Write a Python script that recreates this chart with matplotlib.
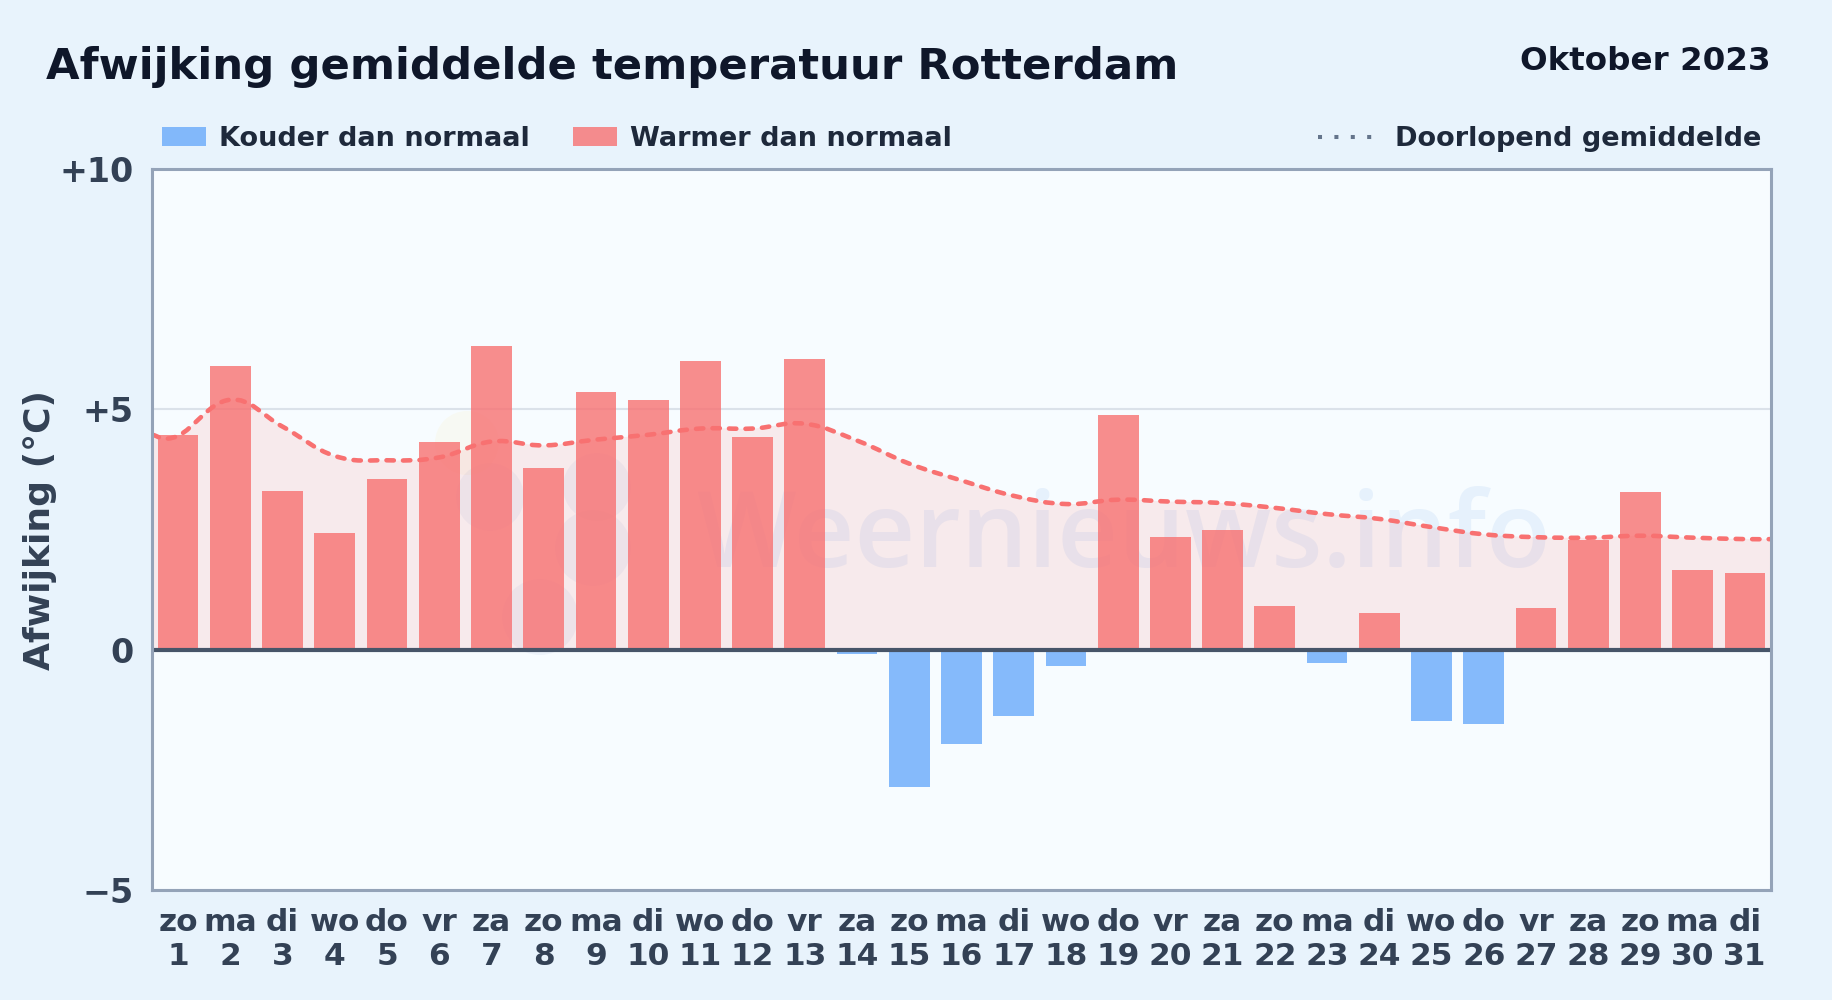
import numpy as np
import matplotlib
matplotlib.use('Agg')
import matplotlib.pyplot as plt
from matplotlib.path import Path
from matplotlib.patches import PathPatch, Circle
from matplotlib.lines import Line2D
from matplotlib.transforms import IdentityTransform

days = list(range(1, 32))
weekdays = ['zo','ma','di','wo','do','vr','za','zo','ma','di','wo','do','vr','za','zo','ma','di','wo','do','vr','za','zo','ma','di','wo','do','vr','za','zo','ma','di']
deviation = [4.47,5.90,3.30,2.43,3.55,4.33,6.32,3.77,5.37,5.20,6.00,4.43,6.05,-0.08,-2.85,-1.97,-1.39,-0.33,4.88,2.35,2.48,0.90,-0.27,0.76,-1.48,-1.55,0.87,2.28,3.28,1.65,1.60]
running_x = [0.5] + days + [31.5]
running_mean = [4.47,4.45,5.20,4.64,4.03,3.94,4.00,4.33,4.25,4.37,4.47,4.60,4.60,4.70,4.35,3.87,3.52,3.20,3.03,3.12,3.08,3.05,2.95,2.82,2.72,2.55,2.40,2.34,2.33,2.37,2.33,2.30,2.30]
y_ticks = [-5, 0, 5, 10]
y_labels = ['\u22125', '0', '+5', '+10']

COLD = '#69aafa'
WARM = '#f87171'
LINE = '#f87171'
DARK = '#334155'
TITLE = '#0f172a'
LEGEND = '#1e293b'
BORDER = '#94a3b8'

W, H = 1832, 1000
fig = plt.figure(figsize=(W / 100, H / 100), dpi=100, facecolor='#e8f3fc')
ax = fig.add_axes([152 / W, 1 - 890 / H, (1771 - 152) / W, (890 - 169) / H])
ax.set_facecolor('#f7fcff')


def smooth_path(xs, ys, close_base=False):
    # bezier door de punten, zelfde idee als lijn met tension
    xs, ys = np.array(xs, float), np.array(ys, float)
    verts = [(xs[0], ys[0])]
    codes = [Path.MOVETO]
    for i in range(len(xs) - 1):
        p0 = max(i - 1, 0)
        p3 = min(i + 2, len(xs) - 1)
        t = 0.2
        verts.append((xs[i] + (xs[i + 1] - xs[p0]) * t, ys[i] + (ys[i + 1] - ys[p0]) * t))
        verts.append((xs[i + 1] - (xs[p3] - xs[i]) * t, ys[i + 1] - (ys[p3] - ys[i]) * t))
        verts.append((xs[i + 1], ys[i + 1]))
        codes += [Path.CURVE4] * 3
    if close_base:
        verts += [(xs[-1], 0), (xs[0], 0), (xs[0], ys[0])]
        codes += [Path.LINETO, Path.LINETO, Path.CLOSEPOLY]
    return Path(verts, codes)


ax.set_xlim(0.5, 31.5)
ax.set_ylim(-5, 10)

# watermerk: tekst en wolkje
ax.text(1124 / W, 1 - 539 / H, 'Weernieuws.info', transform=fig.transFigure, ha='center', va='center',
        fontsize=76, fontweight='semibold', color='#6ca4e8', alpha=0.12, zorder=1, family='Open Sans')
for cx, cy, r, c in [(467, 443, 32, '#fde68a'), (490, 497, 34, '#8fa6d6'), (597, 487, 34, '#8fa6d6'),
                     (593, 548, 38, '#8fa6d6'), (540, 617, 38, '#8fa6d6')]:
    ax.add_patch(Circle((cx, H - cy), r, transform=IdentityTransform(), facecolor=c, alpha=0.10,
                        edgecolor='none', zorder=1))
ax.grid(axis='y', color='#dbe2ea', linewidth=1.5, zorder=0)
ax.set_axisbelow(True)

ax.add_patch(PathPatch(smooth_path(running_x, running_mean, True), facecolor='#f87171', alpha=0.13,
                       edgecolor='none', zorder=2))
colors = [WARM if v >= 0 else COLD for v in deviation]
ax.bar(days, deviation, width=0.78, color=colors, alpha=0.8, zorder=3)
ax.add_patch(PathPatch(smooth_path(running_x, running_mean), facecolor='none', edgecolor=LINE,
                       linewidth=3.3, linestyle=(0, (1.6, 2.0)), capstyle='round', zorder=4))
ax.axhline(0, color='#475569', linewidth=3, zorder=5)

for s in ax.spines.values():
    s.set_color(BORDER)
    s.set_linewidth(2.2)
    s.set_zorder(6)

ax.set_yticks(y_ticks, y_labels)
ax.set_xticks(days, [f'{w}\n{d}' for w, d in zip(weekdays, days)])
ax.tick_params(axis='both', length=0, labelcolor=DARK)
ax.tick_params(axis='y', pad=13, labelsize=24)
ax.tick_params(axis='x', pad=13, labelsize=22.5)
for t in ax.get_xticklabels() + ax.get_yticklabels():
    t.set_fontweight('bold')
for t in ax.get_xticklabels():
    t.set_linespacing(1.2)
ax.set_ylabel('Afwijking (\u00b0C)', fontsize=26, fontweight='bold', color=DARK, labelpad=0)
ax.yaxis.set_label_coords(-0.0586, 0.50)

fig.text(46 / W, 1 - 67 / H, 'Afwijking gemiddelde temperatuur Rotterdam', fontsize=31.2,
         fontweight='bold', color=TITLE, ha='left', va='center')
fig.text(1771 / W, 1 - 62 / H, 'Oktober 2023', fontsize=23.4, fontweight='bold', color=TITLE,
         ha='right', va='center')

# legenda met de hand, staat over de hele breedte
for x0, label, c in [(162, 'Kouder dan normaal', COLD), (573, 'Warmer dan normaal', WARM)]:
    rect = plt.Rectangle((x0 / W, 1 - 146 / H), 44 / W, 19 / H, transform=fig.transFigure, facecolor=c,
                         alpha=0.8, edgecolor='none')
    fig.add_artist(rect)
    fig.text((x0 + 57) / W, 1 - 139 / H, label, fontsize=19.5, fontweight='bold', color=LEGEND, ha='left', va='center')
fig.add_artist(Line2D([1318 / W, 1373 / W], [1 - 137 / H] * 2, transform=fig.transFigure, color='#64748b',
                      linewidth=2.9, linestyle=(0, (1, 3.07))))
fig.text(1395 / W, 1 - 139 / H, 'Doorlopend gemiddelde', fontsize=19.5, fontweight='bold', color=LEGEND,
         ha='left', va='center')

fig.savefig('out.png', dpi=100, facecolor=fig.get_facecolor())
